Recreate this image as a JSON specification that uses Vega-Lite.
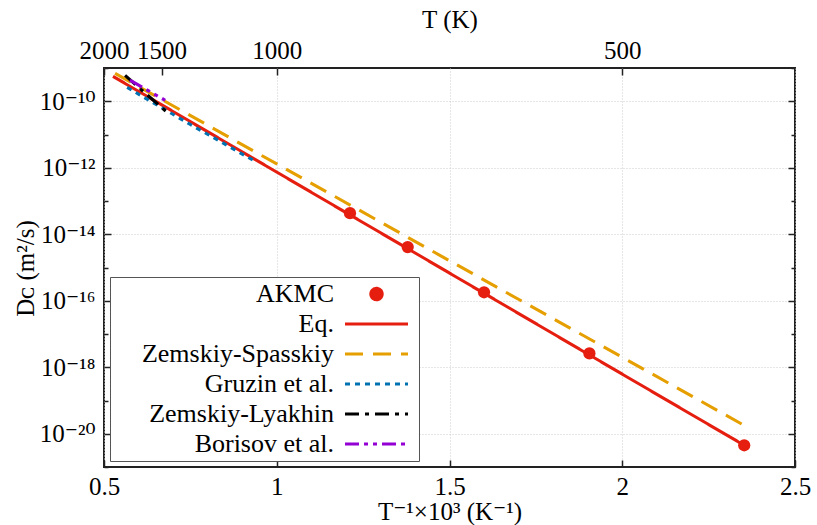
{
  "$schema": "https://vega.github.io/schema/vega-lite/v6.json",
  "width": 691,
  "height": 399,
  "autosize": "none",
  "padding": {"left": 104, "top": 68, "right": 22, "bottom": 58},
  "background": "white",
  "config": {
    "view": {"stroke": "#222", "strokeWidth": 2},
    "font": "Liberation Serif",
    "axis": {"labelFont": "Liberation Serif, DejaVu Serif", "titleFont": "Liberation Serif, DejaVu Serif", "labelFontSize": 25, "titleFontSize": 25, "titleFontWeight": "normal", "labelColor": "black", "titleColor": "black", "domain": false, "tickColor": "#222", "tickWidth": 1.5, "gridColor": "#cccccc", "gridDash": [1, 2], "gridWidth": 1}
  },
  "datasets": {
    "curves": [
      {"series": "Eq.", "invT": 0.526, "D": 5.6e-10},
      {"series": "Eq.", "invT": 1.0, "D": 7.4e-13},
      {"series": "Eq.", "invT": 1.5, "D": 6.8e-16},
      {"series": "Eq.", "invT": 2.0, "D": 6.2e-19},
      {"series": "Eq.", "invT": 2.353, "D": 4.5e-21},
      {"series": "Zemskiy-Spasskiy", "invT": 0.532, "D": 6.9e-10},
      {"series": "Zemskiy-Spasskiy", "invT": 1.0, "D": 1.3e-12},
      {"series": "Zemskiy-Spasskiy", "invT": 1.5, "D": 1.6e-15},
      {"series": "Zemskiy-Spasskiy", "invT": 2.0, "D": 2.0e-18},
      {"series": "Zemskiy-Spasskiy", "invT": 2.361, "D": 1.6e-20},
      {"series": "Gruzin et al.", "invT": 0.567, "D": 2.6e-10},
      {"series": "Gruzin et al.", "invT": 0.75, "D": 2.0e-11},
      {"series": "Gruzin et al.", "invT": 0.931, "D": 1.7e-12},
      {"series": "Zemskiy-Lyakhin", "invT": 0.561, "D": 6.0e-10},
      {"series": "Zemskiy-Lyakhin", "invT": 0.682, "D": 4.7e-11},
      {"series": "Borisov et al.", "invT": 0.575, "D": 4.3e-10},
      {"series": "Borisov et al.", "invT": 0.677, "D": 1.07e-10}
    ],
    "akmc": [
      {"series": "AKMC", "invT": 1.212, "D": 4.3e-14},
      {"series": "AKMC", "invT": 1.379, "D": 4.1e-15},
      {"series": "AKMC", "invT": 1.6, "D": 1.8e-16},
      {"series": "AKMC", "invT": 1.905, "D": 2.6e-18},
      {"series": "AKMC", "invT": 2.353, "D": 4.5e-21}
    ]
  },
  "layer": [
    {
      "data": {"name": "curves"},
      "mark": {"type": "line", "clip": true},
      "encoding": {
        "x": {
          "field": "invT", "type": "quantitative",
          "scale": {"domain": [0.5, 2.5], "nice": false, "zero": false},
          "axis": {"orient": "bottom", "values": [0.5, 1, 1.5, 2, 2.5], "format": "~g", "labelFlush": false, "labelOverlap": false, "tickSize": -7, "labelPadding": 14, "title": "T⁻¹×10³ (K⁻¹)", "titlePadding": 0, "grid": true}
        },
        "y": {
          "field": "D", "type": "quantitative",
          "scale": {"type": "log", "domain": [1e-21, 1e-9], "nice": false},
          "axis": {
            "orient": "left",
            "values": [1e-21, 1e-20, 1e-19, 1e-18, 1e-17, 1e-16, 1e-15, 1e-14, 1e-13, 1e-12, 1e-11, 1e-10, 1e-9],
            "labelExpr": "round(log(datum.value)/LN10) == -10 ? '10⁻¹⁰' : round(log(datum.value)/LN10) == -12 ? '10⁻¹²' : round(log(datum.value)/LN10) == -14 ? '10⁻¹⁴' : round(log(datum.value)/LN10) == -16 ? '10⁻¹⁶' : round(log(datum.value)/LN10) == -18 ? '10⁻¹⁸' : round(log(datum.value)/LN10) == -20 ? '10⁻²⁰' : ''",
            "labelOverlap": false,
            "labelFlush": false,
            "tickSize": {"condition": {"test": "round(log(datum.value)/LN10) % 2 != 0", "value": -4}, "value": -7},
            "labelPadding": 16,
            "grid": true,
            "gridOpacity": {"condition": {"test": "round(log(datum.value)/LN10) % 2 != 0", "value": 0}, "value": 1},
            "title": "Dᴄ (m²/s)",
            "titleX": -66,
            "titleY": 200,
            "titleAlign": "center",
            "titleAngle": -90,
            "titleBaseline": "bottom"
          }
        },
        "color": {
          "field": "series", "type": "nominal",
          "scale": {"domain": ["AKMC", "Eq.", "Zemskiy-Spasskiy", "Gruzin et al.", "Zemskiy-Lyakhin", "Borisov et al."], "range": ["#e51e10", "#e51e10", "#e69f00", "#0072b2", "#000000", "#9400d3"]},
          "legend": {
            "title": null,
            "orient": "bottom-left",
            "offset": 6,
            "labelAlign": "right",
            "labelOffset": -76,
            "symbolOffset": 229,
            "labelFontSize": 26,
            "labelFont": "Liberation Serif",
            "labelColor": "black",
            "labelLimit": 400,
            "symbolType": "stroke",
            "symbolSize": 625,
            "symbolStrokeWidth": 3.5,
            "strokeColor": "#555",
            "fillColor": "white",
            "padding": 4,
            "rowPadding": 4,
            "encode": {
              "symbols": {
                "update": {
                  "shape": {"signal": "datum.value === 'AKMC' ? 'circle' : 'M-1,0L1,0'"},
                  "size": {"signal": "datum.value === 'AKMC' ? 130 : 3969"},
                  "fill": {"signal": "datum.value === 'AKMC' ? '#e51e10' : 'transparent'"},
                  "y": {"value": 13}
                }
              },
              "labels": {
                "update": {
                  "y": {"value": 13}
                }
              }
            }
          }
        },
        "strokeDash": {
          "field": "series", "type": "nominal",
          "scale": {"domain": ["AKMC", "Eq.", "Zemskiy-Spasskiy", "Gruzin et al.", "Zemskiy-Lyakhin", "Borisov et al."], "range": [[1, 0], [1, 0], [18, 10], [5, 5], [14, 6, 4, 6], [14, 5, 4, 5, 4, 5]]}
        },
        "strokeWidth": {
          "field": "series", "type": "nominal",
          "scale": {"domain": ["AKMC", "Eq.", "Zemskiy-Spasskiy", "Gruzin et al.", "Zemskiy-Lyakhin", "Borisov et al."], "range": [3, 3.2, 4.5, 4.5, 4, 4]},
          "legend": null
        }
      }
    },
    {
      "data": {"name": "akmc"},
      "mark": {"type": "point", "filled": true, "size": 150, "opacity": 1},
      "encoding": {
        "x": {
          "field": "invT", "type": "quantitative",
          "axis": {"orient": "top", "values": [0.5, 0.6667, 1, 2], "labelExpr": "format(1000/datum.value, '.0f')", "labelFlush": false, "labelOverlap": false, "tickSize": -7, "labelPadding": 12, "grid": false, "title": "T (K)", "titlePadding": 6}
        },
        "y": {
          "field": "D", "type": "quantitative",
          "axis": {
            "orient": "right",
            "values": [1e-21, 1e-20, 1e-19, 1e-18, 1e-17, 1e-16, 1e-15, 1e-14, 1e-13, 1e-12, 1e-11, 1e-10, 1e-9],
            "labels": false, "grid": false, "title": null,
            "tickSize": {"condition": {"test": "round(log(datum.value)/LN10) % 2 != 0", "value": -4}, "value": -7}
          }
        },
        "color": {"field": "series", "type": "nominal"}
      }
    }
  ],
  "resolve": {"axis": {"x": "independent", "y": "independent"}}
}
